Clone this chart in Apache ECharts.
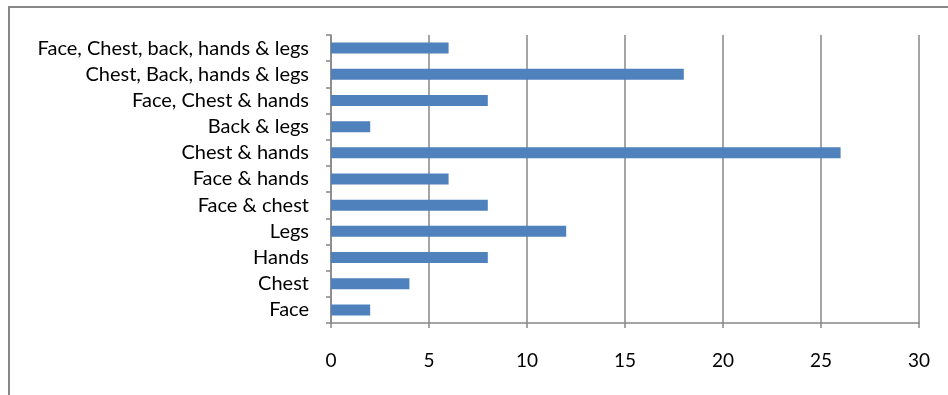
<!DOCTYPE html>
<html>
<head>
<meta charset="utf-8">
<script src="https://cdn.jsdelivr.net/npm/echarts@6/dist/echarts.min.js"></script>
<style>html,body{margin:0;padding:0;background:#fff;}#c{width:948px;height:395px;}</style>
</head>
<body>
<div id="c"></div>
<script>
const categories = ['Face', 'Chest', 'Hands', 'Legs', 'Face & chest', 'Face & hands', 'Chest & hands', 'Back & legs', 'Face, Chest & hands', 'Chest, Back, hands & legs', 'Face, Chest, back, hands & legs'];
const values = [2, 4, 8, 12, 8, 6, 26, 2, 8, 18, 6];
const xTicks = [0, 5, 10, 15, 20, 25, 30];

const chart = echarts.init(document.getElementById('c'), null, {renderer: 'canvas'});
const gray = '#878787';
const font = 'Lato';
chart.setOption({
  animation: false,
  graphic: [{
    type: 'rect', shape: {x: 9, y: 7, width: 1000, height: 500},
    style: {fill: 'none', stroke: gray, lineWidth: 2}, silent: true
  }],
  grid: {left: 331, right: 29, top: 35, bottom: 72, containLabel: false},
  xAxis: {
    type: 'value', min: xTicks[0], max: xTicks[xTicks.length - 1], interval: 5,
    axisLine: {show: true, lineStyle: {color: gray, width: 1.5}},
    axisTick: {show: true, length: 5, lineStyle: {color: gray, width: 1.5}},
    splitLine: {show: true, lineStyle: {color: gray, width: 1.5}},
    axisLabel: {color: '#000', fontSize: 19, fontFamily: font, margin: 28}
  },
  yAxis: {
    type: 'category', data: categories,
    axisLine: {show: true, lineStyle: {color: gray, width: 1.5}},
    axisTick: {show: true, length: 5, lineStyle: {color: gray, width: 1.5}},
    axisLabel: {color: '#000', fontSize: 20, fontFamily: font, margin: 22}
  },
  series: [{
    type: 'bar', data: values, barWidth: 11,
    itemStyle: {color: '#4f81bd'}
  }]
});
</script>
</body>
</html>
